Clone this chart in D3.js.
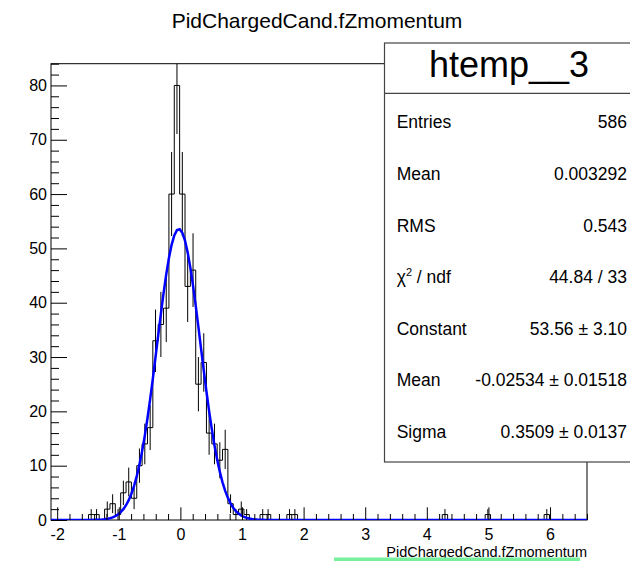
<!DOCTYPE html>
<html>
<head>
<meta charset="utf-8">
<script src="https://cdn.jsdelivr.net/npm/d3@7"></script>
<style>
  body { margin: 0; background: #fff; }
  text { font-family: "Liberation Sans", Arial, sans-serif; }
</style>
</head>
<body>
<svg id="chart" width="630" height="561"></svg>
<script>
// histogram range and bin contents (100 bins)
const binLow = -2.1, binHigh = 6.6
const counts = [
  0, 0, 0, 0, 0, 0, 0, 1, 1, 0,
  2, 3, 1, 5, 7, 4, 10, 14, 17, 33,
  36, 39, 60, 80, 60, 43, 46, 25, 29, 16,
  14, 11, 13, 3, 1, 2, 1, 0, 0, 1,
  1, 0, 0, 0, 1, 1, 0, 0, 0, 0,
  0, 0, 0, 0, 0, 0, 0, 0, 0, 0,
  0, 0, 0, 0, 0, 0, 0, 0, 0, 0,
  0, 0, 0, 1, 0, 0, 0, 0, 0, 0,
  0, 1, 0, 0, 0, 0, 0, 0, 0, 0,
  0, 0, 1, 0, 0, 0, 0, 0, 0, 0
]
const xMajor = [-2, -1, 0, 1, 2, 3, 4, 5, 6]
const yMajor = [0, 10, 20, 30, 40, 50, 60, 70, 80]
const yMax = 84

// gaussian fit parameters (from the stats box)
const fitConstant = 53.56, fitMean = -0.02534, fitSigma = 0.3509

const statLabels = ["Entries", "Mean", "RMS", "chi2", "Constant", "Mean", "Sigma"]
const statValues = ["586", "0.003292", "0.543", "44.84 / 33", "53.56 \u00b1 3.10",
                    "-0.02534 \u00b1 0.01518", "0.3509 \u00b1 0.0137"]

const frameL = 51, frameR = 587, frameT = 63.7, frameB = 520
const nBins = counts.length
const binWidth = (binHigh - binLow) / nBins

const svg = d3.select("#chart")

const x = d3.scaleLinear().domain([binLow, binHigh]).range([frameL, frameR])
const y = d3.scaleLinear().domain([0, yMax]).range([frameB, frameT])

svg.append("defs").append("clipPath").attr("id", "frame")
  .append("rect")
  .attr("x", frameL).attr("y", frameT)
  .attr("width", frameR - frameL).attr("height", frameB - frameT)

// frame
svg.append("rect")
  .attr("x", frameL).attr("y", frameT)
  .attr("width", frameR - frameL).attr("height", frameB - frameT)
  .attr("fill", "none").attr("stroke", "#000").attr("stroke-width", 1)

const plot = svg.append("g").attr("clip-path", "url(#frame)")

// histogram outline
const pts = [[binLow, 0]]
counts.forEach((c, i) => pts.push([binLow + i * binWidth, c]))
pts.push([binHigh, counts[nBins - 1]])
pts.push([binHigh, 0])

plot.append("path")
  .attr("d", d3.line().x(d => x(d[0])).y(d => y(d[1])).curve(d3.curveStepAfter)(pts))
  .attr("fill", "none")
  .attr("stroke", "#000")
  .attr("stroke-width", 1)

// error bars
plot.append("g")
  .selectAll("line")
  .data(counts.map((c, i) => ({ c: c, xc: binLow + (i + 0.5) * binWidth })).filter(d => d.c > 0))
  .enter()
  .append("line")
  .attr("x1", d => x(d.xc)).attr("x2", d => x(d.xc))
  .attr("y1", d => y(d.c - Math.sqrt(d.c)))
  .attr("y2", d => y(d.c + Math.sqrt(d.c)))
  .attr("stroke", "#000")
  .attr("stroke-width", 1)

// fit function
const fitX = d3.range(0, 201).map(k => binLow + k * (binHigh - binLow) / 200)
plot.append("path")
  .attr("d", d3.line()
    .x(v => x(v))
    .y(v => y(fitConstant * Math.exp(-0.5 * Math.pow((v - fitMean) / fitSigma, 2))))(fitX))
  .attr("fill", "none")
  .attr("stroke", "#0000ff")
  .attr("stroke-width", 2.5)

// x axis
const xMinor = d3.range(-20, 67, 2).map(v => v / 10).filter(v => !xMajor.includes(v))
const xAxis = svg.append("g").attr("transform", `translate(0,${frameB})`)
xAxis.call(d3.axisBottom(x).tickValues(xMajor).tickFormat(d => String(d))
  .tickSize(-12.7).tickSizeOuter(0).tickPadding(8.5))
xAxis.append("g").call(d3.axisBottom(x).tickValues(xMinor).tickSize(-6).tickSizeOuter(0).tickFormat(""))
xAxis.selectAll("text").attr("font-size", 16).attr("fill", "#000")

// y axis
const yMinor = d3.range(0, 85, 2).filter(v => !yMajor.includes(v))
const yAxis = svg.append("g").attr("transform", `translate(${frameL},0)`)
yAxis.call(d3.axisLeft(y).tickValues(yMajor).tickSize(-16).tickSizeOuter(0).tickPadding(4))
yAxis.append("g").call(d3.axisLeft(y).tickValues(yMinor).tickSize(-8).tickSizeOuter(0).tickFormat(""))
yAxis.selectAll("text").attr("font-size", 16).attr("fill", "#000")
svg.selectAll(".tick line").attr("stroke", "#000")
svg.selectAll(".domain").attr("stroke", "none")

// titles
svg.append("text")
  .attr("x", 317).attr("y", 28)
  .attr("text-anchor", "middle")
  .attr("font-size", 21)
  .text("PidChargedCand.fZmomentum")

svg.append("text")
  .attr("x", frameR).attr("y", 557)
  .attr("text-anchor", "end")
  .attr("font-size", 14.5)
  .text("PidChargedCand.fZmomentum")

svg.append("rect")
  .attr("x", 334).attr("y", 557.5)
  .attr("width", 246).attr("height", 3.5)
  .attr("fill", "#78f09c")

// stats box
const box = svg.append("g")
box.append("rect")
  .attr("x", 384.5).attr("y", 43)
  .attr("width", 250).attr("height", 419)
  .attr("fill", "#fff").attr("stroke", "#444").attr("stroke-width", 1.2)
box.append("line")
  .attr("x1", 384.5).attr("x2", 630)
  .attr("y1", 93.3).attr("y2", 93.3)
  .attr("stroke", "#444").attr("stroke-width", 1.2)
box.append("text")
  .attr("x", 509).attr("y", 77)
  .attr("text-anchor", "middle")
  .attr("font-size", 36)
  .text("htemp__3")

statLabels.forEach((lab, i) => {
  const by = 128.3 + i * 51.6
  const t = box.append("text").attr("x", 396.7).attr("y", by).attr("font-size", 17.5)
  if (lab === "chi2") {
    t.append("tspan").text("\u03c7")
    t.append("tspan").attr("font-size", 11).attr("dy", -7).text("2")
    t.append("tspan").attr("dy", 7).text(" / ndf")
  } else {
    t.text(lab)
  }
  box.append("text")
    .attr("x", 627).attr("y", by)
    .attr("text-anchor", "end")
    .attr("font-size", 17.5)
    .text(statValues[i])
})
</script>
</body>
</html>
